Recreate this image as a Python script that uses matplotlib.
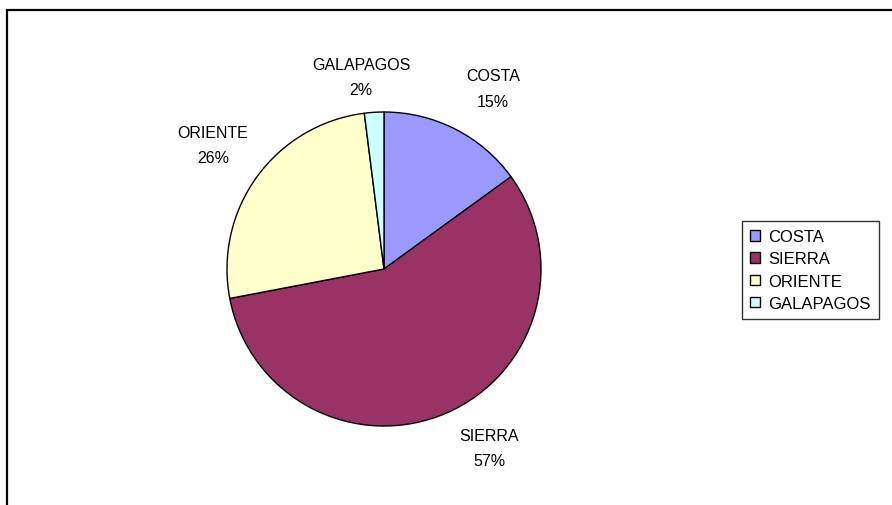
import matplotlib
matplotlib.use("Agg")
import matplotlib.pyplot as plt
from matplotlib.patches import Rectangle

plt.rcParams['font.family'] = ['Liberation Sans', 'DejaVu Sans']

categories = ["COSTA", "SIERRA", "ORIENTE", "GALAPAGOS"]
values = [15, 57, 26, 2]
colors = ["#9999FF", "#993366", "#FFFFCC", "#CCFFFF"]

# label anchor positions, in units of the pie radius (layout only)
label_pos = [(0.694, 1.150), (0.669, -1.140), (-1.089, 0.790), (-0.146, 1.225)]

W, H = 892, 506
fig = plt.figure(figsize=(W / 100, H / 100), dpi=100)

# figure frame (only left and top visible in the reference)
fig.patches.append(Rectangle((7 / W, -0.2), 2.0, (H - 11) / H + 0.2,
                             transform=fig.transFigure, fill=False,
                             edgecolor="black", linewidth=1.6))

cx, cy, r = 384, 270, 157
ax = fig.add_axes([(cx - r) / W, (H - cy - r) / H, 2 * r / W, 2 * r / H])
labels = [f"{c}\n{v}%" for c, v in zip(categories, values)]
wedges, texts = ax.pie(values, colors=colors, startangle=90, counterclock=False,
                       labels=labels, labeldistance=1.3,
                       wedgeprops=dict(edgecolor="black", linewidth=1.0),
                       textprops=dict(fontsize=11.5))
for t, p in zip(texts, label_pos):
    t.set_position(p)
    t.set_ha("center")
    t.set_va("center")
    t.set_linespacing(1.85)
ax.set_aspect("equal")
ax.set_xlim(-1, 1)
ax.set_ylim(-1, 1)

leg = fig.legend(wedges, categories, loc="upper left",
                 bbox_to_anchor=(742 / W, (H - 222) / H),
                 frameon=True, fancybox=False, fontsize=12,
                 handlelength=0.6, handleheight=0.6, handletextpad=0.45,
                 labelspacing=0.43, borderpad=0.5, borderaxespad=0)
leg.get_frame().set_edgecolor("black")
leg.get_frame().set_linewidth(1.0)
for h in leg.legend_handles:
    h.set_edgecolor("black")
    h.set_linewidth(1.0)

fig.savefig("out.png", dpi=100)
